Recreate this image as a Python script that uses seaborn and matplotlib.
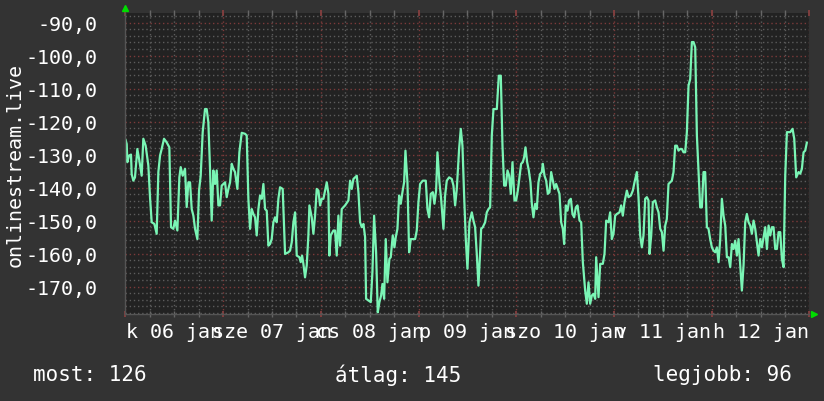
import matplotlib
matplotlib.use("Agg")
import matplotlib.pyplot as plt
from matplotlib.ticker import MultipleLocator, FuncFormatter, NullFormatter
import seaborn as sns
import pandas as pd

# hours since 06 jan 00:00 and signal value
hours = [
    0.0, 0.29, 0.45, 0.86, 1.35, 1.52, 1.92, 2.33, 2.91, 3.40, 3.97, 4.38, 4.95, 5.61,
    6.02, 6.43, 7.08, 7.66, 8.07, 8.48, 8.89, 9.46, 10.11, 10.77, 11.18, 11.75, 12.16,
    12.74, 13.23, 13.56, 14.05, 14.62, 15.03, 15.44, 15.85, 16.26, 16.67, 17.08, 17.65,
    18.06, 18.47, 18.96, 19.53, 19.94, 20.35, 20.76, 21.17, 21.58, 21.99, 22.40, 22.81,
    23.22, 23.63, 24.04, 24.45, 24.86, 25.27, 25.68, 26.09, 26.49, 26.90, 27.48, 27.97,
    28.54, 29.36, 29.77, 30.18, 30.59, 31.0, 31.41, 31.82, 32.23, 32.64, 33.05, 33.46,
    33.87, 34.28, 34.69, 35.09, 35.50, 35.91, 36.32, 36.73, 37.14, 37.55, 37.96, 38.61,
    39.19, 40.01, 40.42, 40.83, 41.24, 41.65, 42.06, 42.71, 43.04, 43.37, 43.69, 44.10,
    44.51, 44.92, 45.17, 45.74, 46.15, 46.56, 46.97, 47.38, 47.79, 48.20, 48.61, 49.02,
    49.43, 49.84, 50.08, 50.41, 51.07, 51.47, 51.88, 52.29, 52.70, 53.11, 53.93, 54.75,
    55.16, 55.57, 55.98, 56.39, 56.80, 57.21, 57.62, 58.03, 58.44, 58.85, 59.09, 59.67,
    60.24, 60.65, 61.06, 61.55, 61.96, 62.37, 62.78, 63.11, 63.52, 63.92, 64.33, 64.82,
    65.15, 65.64, 66.05, 66.38, 66.79, 67.20, 67.61, 68.02, 68.43, 68.76, 69.25, 69.66,
    70.07, 70.47, 71.13, 71.54, 71.95, 72.36, 73.01, 73.75, 74.16, 74.57, 74.98, 75.48,
    75.88, 76.29, 76.62, 77.11, 77.52, 78.09, 78.50, 78.91, 79.49, 80.14, 80.55, 80.96,
    81.37, 81.94, 82.35, 82.76, 83.17, 83.58, 83.99, 84.48, 85.06, 85.46, 85.87, 86.28,
    86.69, 87.10, 87.35, 87.76, 88.33, 88.74, 89.15, 89.56, 89.97, 90.38, 91.20, 91.69,
    92.18, 92.59, 93.00, 93.41, 93.82, 94.23, 94.64, 95.05, 95.54, 95.95, 96.36, 96.77,
    97.17, 97.58, 97.91, 98.24, 98.65, 99.06, 99.47, 99.80, 100.20, 100.61, 101.02,
    101.43, 101.84, 102.25, 102.50, 102.91, 103.32, 103.73, 104.14, 104.55, 104.96,
    105.37, 105.77, 106.18, 106.59, 107.00, 107.41, 107.74, 108.15, 108.56, 108.97,
    109.38, 109.79, 110.20, 110.61, 111.02, 111.51, 111.92, 112.33, 112.90, 113.31,
    113.72, 114.13, 114.54, 114.95, 115.36, 115.60, 116.18, 116.59, 117.24, 117.65,
    118.06, 118.63, 119.04, 119.45, 119.86, 120.27, 120.68, 121.33, 121.74, 122.15,
    122.56, 123.14, 123.55, 124.12, 124.61, 125.02, 125.59, 126.00, 126.41, 126.82,
    127.23, 127.64, 128.05, 128.46, 128.71, 129.12, 129.52, 130.10, 130.51, 130.92,
    131.33, 131.74, 132.15, 132.56, 132.96, 133.37, 133.78, 134.19, 134.60, 135.01,
    135.42, 135.83, 136.24, 136.65, 137.06, 137.47, 137.88, 138.29, 138.70, 139.11,
    139.52, 139.93, 140.34, 140.75, 141.15, 141.56, 141.97, 142.38, 142.79, 143.20,
    143.61, 144.02, 144.43, 144.84, 145.25, 145.66, 146.07, 146.48, 146.89, 147.30,
    147.71, 148.12, 148.53, 148.94, 149.35, 149.75, 150.16, 150.57, 150.98, 151.39,
    151.80, 152.21, 152.62, 153.03, 153.44, 153.85, 154.26, 154.67, 155.08, 155.49,
    155.90, 156.31, 156.72, 157.13, 157.54, 157.95, 158.35, 158.76, 159.17, 159.58,
    159.99, 160.40, 160.81, 161.22, 161.63, 162.04, 162.45, 163.27, 163.84, 164.25,
    164.74, 165.31, 165.72, 166.13, 166.54, 166.95, 167.36,
]
values = [
    -125.4, -126.8, -132.3, -130.3, -130.0, -135.9, -137.9, -136.9, -128.3, -131.8,
    -136.4, -125.2, -127.3, -133.3, -142.9, -150.5, -151.0, -154.0, -135.3, -130.3,
    -128.3, -125.2, -126.3, -127.8, -152.0, -152.5, -150.0, -153.0, -136.9, -133.8,
    -136.4, -134.3, -145.9, -138.4, -138.4, -146.5, -148.5, -152.5, -155.6, -140.9,
    -136.4, -123.2, -116.2, -116.2, -120.2, -134.3, -150.0, -134.8, -138.9, -134.8,
    -145.4, -145.4, -139.4, -138.9, -138.4, -142.9, -140.4, -138.4, -132.8, -134.3,
    -135.3, -140.4, -129.3, -123.4, -123.7, -124.2, -143.4, -152.5, -146.5, -148.0,
    -149.0, -154.5, -146.5, -142.4, -143.4, -138.9, -146.5, -147.0, -157.6, -157.1,
    -155.6, -150.5, -149.0, -150.5, -143.4, -139.9, -140.4, -160.1, -159.6, -159.1,
    -156.6, -150.5, -147.5, -160.6, -161.1, -162.6, -160.6, -163.1, -167.2, -163.6,
    -154.5, -145.4, -149.0, -154.0, -148.5, -140.4, -140.9, -145.4, -143.4, -143.4,
    -140.9, -138.4, -141.9, -160.6, -154.5, -153.0, -153.0, -160.6, -148.5, -157.6,
    -146.5, -145.4, -143.9, -137.9, -140.4, -137.4, -136.9, -136.4, -141.4, -150.5,
    -152.0, -151.0, -155.0, -173.7, -174.2, -174.7, -165.6, -148.5, -159.6, -177.8,
    -174.7, -172.7, -169.2, -173.7, -155.6, -168.7, -161.6, -161.1, -154.5, -158.1,
    -155.0, -152.5, -142.4, -144.9, -141.4, -138.4, -128.8, -138.4, -159.6, -155.6,
    -155.6, -155.6, -153.0, -144.4, -138.9, -137.9, -137.9, -146.5, -149.0, -141.9,
    -141.4, -144.9, -140.9, -129.3, -138.4, -143.4, -152.5, -142.4, -137.9, -136.9,
    -137.4, -139.4, -145.4, -140.4, -128.3, -122.2, -127.3, -142.4, -155.6, -164.6,
    -150.5, -147.5, -150.0, -152.0, -160.1, -169.7, -159.6, -152.5, -152.0, -150.5,
    -147.5, -146.5, -146.0, -124.2, -116.2, -116.2, -106.1, -106.1, -127.3, -139.4,
    -139.4, -134.8, -136.4, -141.9, -132.3, -143.9, -143.9, -140.9, -136.9, -132.8,
    -132.3, -130.8, -127.8, -132.3, -134.8, -138.4, -144.9, -149.0, -144.9, -146.5,
    -138.4, -135.9, -135.3, -132.8, -136.4, -137.9, -141.9, -141.4, -135.3, -137.9,
    -140.4, -138.9, -140.4, -141.9, -150.5, -152.5, -157.1, -145.4, -147.0, -143.9,
    -143.4, -148.0, -149.0, -146.0, -145.4, -150.0, -150.5, -162.6, -171.2, -175.2,
    -168.7, -175.2, -172.7, -172.2, -173.7, -161.1, -173.2, -163.1, -163.1, -160.1,
    -150.0, -150.5, -147.5, -155.6, -154.0, -148.5, -148.0, -147.5, -145.4, -148.5,
    -144.4, -140.9, -142.9, -142.4, -140.9, -138.4, -135.3, -142.9, -154.5, -158.1,
    -154.5, -143.4, -142.9, -143.9, -160.1, -154.5, -144.4, -143.9, -146.0, -147.5,
    -152.5, -153.5, -159.1, -151.5, -149.5, -138.9, -138.4, -137.9, -135.3, -127.3,
    -127.3, -128.8, -128.3, -128.3, -129.3, -129.3, -123.2, -109.1, -107.1, -95.9,
    -95.9, -97.5, -124.2, -135.3, -146.0, -146.0, -135.3, -135.3, -152.0, -152.5,
    -155.6, -158.1, -159.1, -159.6, -158.1, -162.6, -155.6, -143.4, -148.5, -151.5,
    -161.1, -161.1, -164.1, -157.1, -158.6, -156.1, -160.6, -155.6, -163.6, -171.2,
    -163.6, -150.5, -148.0, -150.5, -151.5, -154.0, -150.0, -152.5, -156.6, -160.6,
    -155.6, -158.1, -155.0, -152.0, -158.6, -151.5, -154.5, -152.0, -152.0, -158.6,
    -158.6, -153.5, -153.5, -161.6, -164.1, -136.4, -123.2, -123.2, -122.2, -125.2,
    -136.9, -135.3, -135.8, -134.3, -129.3, -128.8, -126.3,
]

day_labels = ["k 06 jan", "sze 07 jan", "cs 08 jan", "p 09 jan",
              "szo 10 jan", "v 11 jan", "h 12 jan"]
summary_names = ["most", "átlag", "legjobb"]
summary_values = [126, 145, 96]
ylabel = "onlinestream.live"

df = pd.DataFrame({"hour": hours, "value": values})

sns.set_theme(style="dark")
plt.rcParams["font.family"] = ["DejaVu Sans Mono"]

bg = "#333333"
plot_bg = "#222222"
fg = "white"

fig = plt.figure(figsize=(8.24, 4.02), dpi=100, facecolor=bg)
ax = fig.add_axes([125.5 / 824, 1 - 315 / 402, 684 / 824, 301 / 402])
ax.set_facecolor(plot_bg)

# grid first, rrdtool style
ax.set_xlim(0, 168)
ax.set_ylim(-178.3, -87.1)
ax.xaxis.set_major_locator(MultipleLocator(24))
ax.xaxis.set_minor_locator(MultipleLocator(6))
ax.yaxis.set_major_locator(MultipleLocator(10))
ax.yaxis.set_minor_locator(MultipleLocator(2))
ax.grid(which="minor", color="#5c5c5c", linestyle=(0, (1, 2)), linewidth=1)
ax.grid(which="major", color="#7c3a3a", linestyle=(0, (1, 2)), linewidth=1)
ax.set_axisbelow(True)

sns.lineplot(data=df, x="hour", y="value", ax=ax, color="#7af5b5",
             linewidth=1.6, estimator=None, sort=False)

ax.set_xlabel("")
ax.set_ylabel("")
ax.xaxis.set_major_formatter(NullFormatter())
ax.yaxis.set_major_formatter(FuncFormatter(lambda v, p: f"{v:.1f}".replace(".", ",")))
ax.tick_params(axis="y", which="major", labelsize=14.4, labelcolor=fg, pad=18,
               direction="inout", length=4, color="#8a4040")
ax.tick_params(axis="y", which="minor", direction="inout", length=4, color="#666666")
ax.tick_params(axis="x", which="major", top=True, bottom=True, direction="inout",
               length=5, color="#8a4040")
ax.tick_params(axis="x", which="minor", top=True, bottom=True, direction="inout",
               length=5, color="#666666")

for s in ["top", "right"]:
    ax.spines[s].set_visible(False)
for s in ["left", "bottom"]:
    ax.spines[s].set_color("#555555")
    ax.spines[s].set_linewidth(1)

# day labels centred on noon
for i, lab in enumerate(day_labels):
    ax.text(24 * i + 12, -0.025, lab, transform=ax.get_xaxis_transform(),
            ha="center", va="top", fontsize=14.4, color=fg)

# axis arrows
ax.plot([0], [1.015], marker="^", color="#00dd00", markersize=5,
        transform=ax.transAxes, clip_on=False)
ax.plot([1.006], [0], marker=">", color="#00dd00", markersize=5,
        transform=ax.transAxes, clip_on=False)

fig.text(15 / 824, 1 - 165 / 402, ylabel, rotation=90, ha="center", va="center",
         fontsize=14.4, color=fg)

xs = [33 / 824, 398 / 824, 792 / 824]
has = ["left", "center", "right"]
for name, val, xx, ha in zip(summary_names, summary_values, xs, has):
    fig.text(xx, 1 - 375 / 402, f"{name}: {val}", ha=ha, va="center",
             fontsize=15, color=fg)

fig.savefig("out.png", dpi=100, facecolor=bg)
